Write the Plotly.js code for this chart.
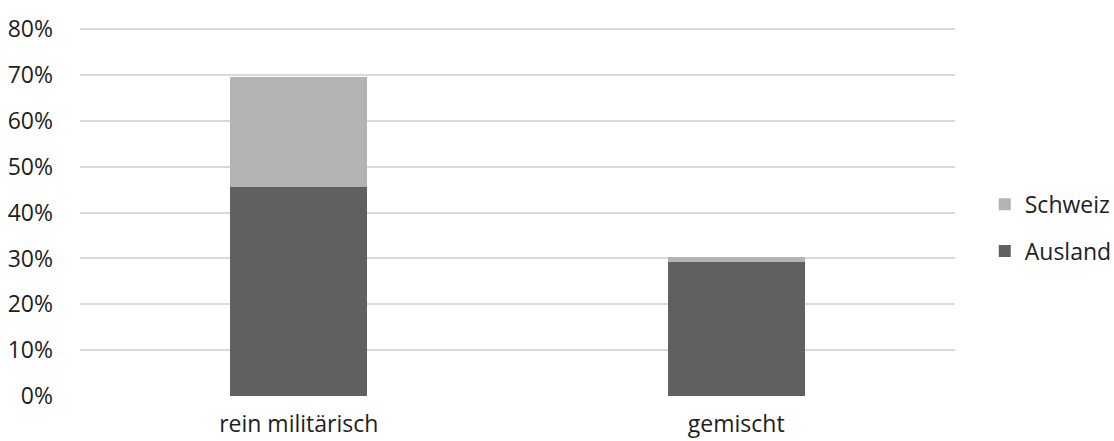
<!DOCTYPE html>
<html>
<head>
<meta charset="utf-8">
<script src="https://cdn.plot.ly/plotly-3.0.1.min.js"></script>
<style>html,body{margin:0;padding:0;background:#fff}#chart{width:1114px;height:441px}</style>
</head>
<body>
<div id="chart"></div>
<script>
const categories = ["rein militärisch", "gemischt"];
const ausland = [0.457, 0.293];
const schweiz = [0.239, 0.011];
const yTickVals = [0, 0.1, 0.2, 0.3, 0.4, 0.5, 0.6, 0.7, 0.8];

const fontFam = "'Open Sans', sans-serif";
const data = [
  {type: "bar", name: "Ausland", x: categories, y: ausland, marker: {color: "#606060"}, legendgroup: "a", legendrank: 2, hoverinfo: "none"},
  {type: "bar", name: "Schweiz", x: categories, y: schweiz, marker: {color: "#b3b3b3"}, legendgroup: "s", legendrank: 1, hoverinfo: "none"}
];
const layout = {
  width: 1114, height: 441,
  margin: {l: 80, r: 159, t: 27, b: 45, autoexpand: false},
  barmode: "stack",
  bargap: 0.687,
  paper_bgcolor: "#fff", plot_bgcolor: "#fff",
  font: {family: fontFam, size: 23, color: "#1e1e1e"},
  xaxis: {type: "category", showgrid: false, zeroline: false, showline: false, ticks: "", ticklabelstandoff: 12, automargin: false},
  yaxis: {range: [0, 0.805], tickvals: yTickVals, tickformat: ".0%", showgrid: true, gridcolor: "#d9d9d9", gridwidth: 2,
          zeroline: false, showline: false, ticks: "", ticklabelstandoff: 26, automargin: false},
  legend: {x: 1.034, xanchor: "left", y: 0.456, yanchor: "middle", traceorder: "grouped", tracegroupgap: 14,
           bgcolor: "rgba(0,0,0,0)", font: {family: fontFam, size: 23, color: "#1e1e1e"}},
  showlegend: true
};
Plotly.newPlot("chart", data, layout, {displayModeBar: false, staticPlot: true});
</script>
</body>
</html>
